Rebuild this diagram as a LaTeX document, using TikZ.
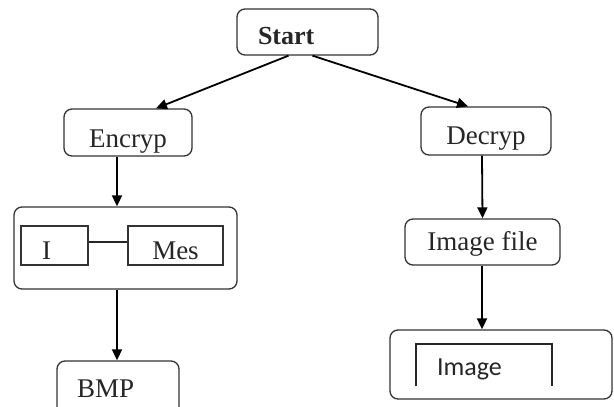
\documentclass[tikz,border=0pt]{standalone}
\usepackage{fontspec}
\setmainfont{Liberation Serif}
\newfontfamily\imgfont{Carlito}
\usetikzlibrary{arrows.meta}
\tikzset{flow/.style = {-{Triangle[length=11pt,width=10pt]}, line width=1.8pt}}
\tikzset{roundbox/.style = {draw=black!80, line width=1.3pt, rounded corners=8pt, inner sep=0pt, text depth=0pt,
                            font=\fontsize{27}{31}\selectfont, text=black!85}}
\tikzset{sqbox/.style = {roundbox, rounded corners=0pt}}

\begin{document}
\begin{tikzpicture}[x=1pt, y=-1pt]
    \useasboundingbox (0,0) rectangle (614,407);

    % top and the two branches
    \node[roundbox, minimum width=141pt, minimum height=46pt, inner xsep=21pt, text width=99pt, align=left,
          text height=25.6pt, font=\fontsize{26}{30}\selectfont\bfseries] (start) at (307.5,32) {Start};
    \node[roundbox, minimum width=128pt, minimum height=47pt, text height=30.8pt] (encryp) at (128,132.5) {Encryp};
    \node[roundbox, minimum width=130pt, minimum height=48pt, text height=26.8pt] (decryp) at (486,131) {Decryp};

    % left side
    \node[roundbox, minimum width=223pt, minimum height=82pt] (embed) at (125.5,248) {};
    \node[sqbox, minimum width=67pt, minimum height=39pt, inner xsep=21pt, text width=25pt, align=left,
          text height=27.8pt] (ibox) at (54.5,245.5) {I};
    \node[sqbox, minimum width=95pt, minimum height=39pt, text height=27.8pt] (mesbox) at (175.5,245.5) {Mes};
    \node[roundbox, minimum width=122pt, minimum height=54pt, inner xsep=20pt, text width=82pt, align=left,
          text height=19.9pt] (bmp) at (118,388) {BMP};

    % right side
    \node[roundbox, minimum width=155pt, minimum height=46pt, text height=17.9pt] (imgfile) at (482.5,242) {Image file};
    \node[roundbox, minimum width=222pt, minimum height=69pt] (imgbox) at (501,364.5) {};
    \node[font=\imgfont\fontsize{26}{30}\selectfont, text=black!85, inner sep=0pt] (imgtext) at (469.5,369) {Image};
    \draw[black!85, line width=1.3pt] (416,386) -- (416,344) -- (552,344) -- (552,386);

    % connectors
    \draw[flow] ([xshift=-19pt]start.south) -- ([xshift=28pt]encryp.north);
    \draw[flow] ([xshift=5pt]start.south) -- ([xshift=-18pt]decryp.north);
    \draw[flow] ([xshift=-11pt]encryp.south) -- ([xshift=-8.5pt]embed.north);
    \draw[black!85, line width=1.3pt] ([yshift=3.5pt]ibox.east) -- ([yshift=3.5pt]mesbox.west);
    \draw[flow] ([xshift=-8.5pt]embed.south) -- ([xshift=-1pt]bmp.north);
    \draw[flow] ([xshift=-4pt]decryp.south) -- (imgfile.north);
    \draw[flow] ([xshift=-0.5pt]imgfile.south) -- ([xshift=-19pt]imgbox.north);
\end{tikzpicture}
\end{document}
